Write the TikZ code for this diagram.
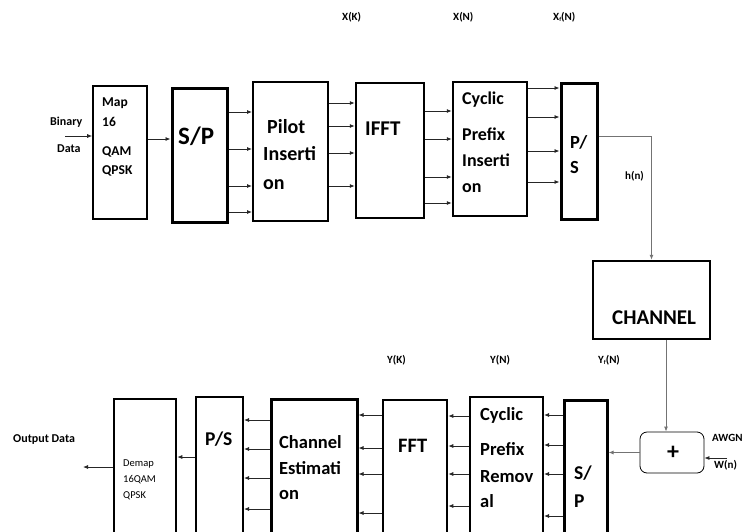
\documentclass[tikz,border=0pt]{standalone}
\usepackage{fontspec}
\setmainfont{Carlito}
\usetikzlibrary{arrows.meta}
\tikzset{
  box/.style={draw=black, inner sep=0pt, line width=2pt},
  arr/.style={draw=black!85, line width=0.8pt, -{Latex[length=5pt,width=4pt]}},
  garr/.style={draw=black!55, line width=0.9pt, -{Latex[length=5pt,width=4pt]}},
  txt/.style={anchor=base west, inner sep=0pt, font=\bfseries},
  lbl/.style={anchor=base west, inner sep=0pt, font=\fontsize{11}{12}\selectfont\bfseries},
}
\newcommand\fs[1]{\fontsize{#1}{#1}\selectfont\bfseries}
\begin{document}
\begin{tikzpicture}[x=1pt,y=-1pt]
\useasboundingbox (0,0) rectangle (745,531);
\clip (0,0) rectangle (745,531);
\fill[white] (0,0) rectangle (745,531);
% ---------- top row boxes
\node[box, line width=1.6pt, minimum width=54, minimum height=133] (map) at (120,152.5) {};
\node[box, line width=3pt, minimum width=55, minimum height=134] (sp1) at (199.5,155) {};
\node[box, minimum width=75, minimum height=139] (pilot) at (290.5,151.5) {};
\node[box, line width=2.5pt, minimum width=68, minimum height=135] (ifft) at (390,150.5) {};
\node[box, line width=2.5pt, minimum width=74, minimum height=134] (cpi) at (490,149) {};
\node[box, line width=3pt, minimum width=36, minimum height=136] (ps1) at (579,151) {};
\node[box, line width=2.5pt, minimum width=117, minimum height=78] (chan) at (651.5,300) {};
\node[draw=black, line width=0.8pt, rounded corners=7pt, inner sep=0pt, minimum width=64, minimum height=41] (plus) at (672,452.5) {};
% ---------- bottom row boxes
\node[box, line width=3pt, minimum width=43, minimum height=145] (sp2) at (585.5,472.5) {};
\node[box, minimum width=73, minimum height=148] (cpr) at (506.5,471) {};
\node[box, line width=2.5pt, minimum width=64, minimum height=145] (fft) at (415,472.5) {};
\node[box, line width=3pt, minimum width=86, minimum height=146] (ce) at (314,472) {};
\node[box, minimum width=47, minimum height=148] (ps2) at (219.5,471) {};
\node[box, line width=2.5pt, minimum width=62, minimum height=146] (demap) at (145,472) {};
% ---------- texts in boxes
\node[txt, font=\fs{13.5}] (mapA) at (102,106) {Map};
\node[txt, font=\fs{13.5}] (mapB) at (102,126) {16};
\node[txt, font=\fs{13.5}] (mapC) at (102,155) {QAM};
\node[txt, font=\fs{13.5}] (mapD) at (102,174) {QPSK};
\node[txt, font=\fs{25}] (sp1T) at (178,144) {S/P};
\node[txt, font=\fs{20}] (pilA) at (267,133) {Pilot};
\node[txt, font=\fs{20}] (pilB) at (263,160) {Inserti};
\node[txt, font=\fs{20}] (pilC) at (263,189) {on};
\node[txt, font=\fs{21}] (ifftT) at (365,135) {IFFT};
\node[txt, font=\fs{18}] (cpiA) at (462,104) {Cyclic};
\node[txt, font=\fs{18}] (cpiB) at (462,140) {Prefix};
\node[txt, font=\fs{18}] (cpiC) at (462,166) {Inserti};
\node[txt, font=\fs{18}] (cpiD) at (462,192) {on};
\node[txt, font=\fs{18.5}] (ps1A) at (570,148) {P/};
\node[txt, font=\fs{18.5}] (ps1B) at (570,173) {S};
\node[txt, font=\fs{21}] (chanT) at (612,324) {CHANNEL};
\node[font=\fs{24}, inner sep=0pt] (plusT) at (673,453) {+};
\node[txt, font=\fs{18.5}] (cprA) at (480,420) {Cyclic};
\node[txt, font=\fs{18.5}] (cprB) at (480,455) {Prefix};
\node[txt, font=\fs{18.5}] (cprC) at (480,482) {Remov};
\node[txt, font=\fs{18.5}] (cprD) at (480,507) {al};
\node[txt, font=\fs{20.5}] (fftT) at (398,452) {FFT};
\node[txt, font=\fs{19.5}] (sp2A) at (574,479) {S/};
\node[txt, font=\fs{19.5}] (sp2B) at (574,507) {P};
\node[txt, font=\fs{18.5}] (ceA) at (279,448) {Channel};
\node[txt, font=\fs{18.5}] (ceB) at (279,474) {Estimati};
\node[txt, font=\fs{18.5}] (ceC) at (279,499) {on};
\node[txt, font=\fs{19.5}] (ps2T) at (205,445) {P/S};
\node[txt, font=\fontsize{10.5}{12}\selectfont] (dmA) at (123,466) {Demap};
\node[txt, font=\fontsize{10.5}{12}\selectfont] (dmB) at (123,482) {16QAM};
\node[txt, font=\fontsize{10.5}{12}\selectfont] (dmC) at (123,498) {QPSK};
% ---------- labels
\node[lbl] (xk) at (342,20) {X(K)};
\node[lbl] (xn) at (453,20) {X(N)};
\node[lbl] (xfn) at (553,20) {X\raisebox{-1.5pt}{\fontsize{6}{6}\selectfont f}(N)};
\node[lbl] (yk) at (387,363) {Y(K)};
\node[lbl] (yn) at (490,363) {Y(N)};
\node[lbl] (yfn) at (598,363) {Y\raisebox{-1.5pt}{\fontsize{6}{6}\selectfont f}(N)};
\node[lbl] (hn) at (625,179) {h(n)};
\node[lbl, font=\fontsize{12}{13}\selectfont\bfseries] (bin) at (50,125) {Binary};
\node[lbl, font=\fontsize{12}{13}\selectfont\bfseries] (dat) at (57,152) {Data};
\node[lbl, font=\fontsize{12}{13}\selectfont\bfseries] (out) at (13,442) {Output Data};
\node[lbl] (awgn) at (712,441) {AWGN};
\node[lbl] (wn) at (714,468) {W(n)};
% ---------- free ends
\coordinate (binS) at (65,136);
\coordinate (outE) at (83,467);
\coordinate (wS) at (727,458);
% ---------- top connectors
\draw[arr] (binS) -- (map.west |- binS);
\draw[arr] (map.east |- 0,139) -- (sp1.west |- 0,139);
\foreach \y in {112,149,186,212} \draw[arr] (sp1.east |- 0,\y) -- (pilot.west |- 0,\y);
\foreach \y in {103,126,153,186} \draw[arr] (pilot.east |- 0,\y) -- (ifft.west |- 0,\y);
\foreach \y in {111,139,177,203} \draw[arr] (ifft.east |- 0,\y) -- (cpi.west |- 0,\y);
\foreach \y in {88,117,151,182} \draw[arr] (cpi.east |- 0,\y) -- (ps1.west |- 0,\y);
\draw[garr] (ps1.east |- 0,136) -| (chan.north);
\draw[garr] (chan.south -| 666,0) -- (plus.north -| 666,0);
\draw[garr] (plus.west) -- (sp2.east |- plus.west);
\draw[arr] (wS) -- (plus.east |- wS);
% ---------- bottom connectors
\foreach \y in {415,445,474,516} \draw[arr] (sp2.west |- 0,\y) -- (cpr.east |- 0,\y);
\foreach \y in {416,446,474,506} \draw[arr] (cpr.west |- 0,\y) -- (fft.east |- 0,\y);
\foreach \y in {415,448,474,513} \draw[arr] (fft.west |- 0,\y) -- (ce.east |- 0,\y);
\foreach \y in {420,449,478,509} \draw[arr] (ce.west |- 0,\y) -- (ps2.east |- 0,\y);
\draw[arr] (ps2.west |- 0,457) -- (demap.east |- 0,457);
\draw[arr] (demap.west |- outE) -- (outE);
\end{tikzpicture}
\end{document}
